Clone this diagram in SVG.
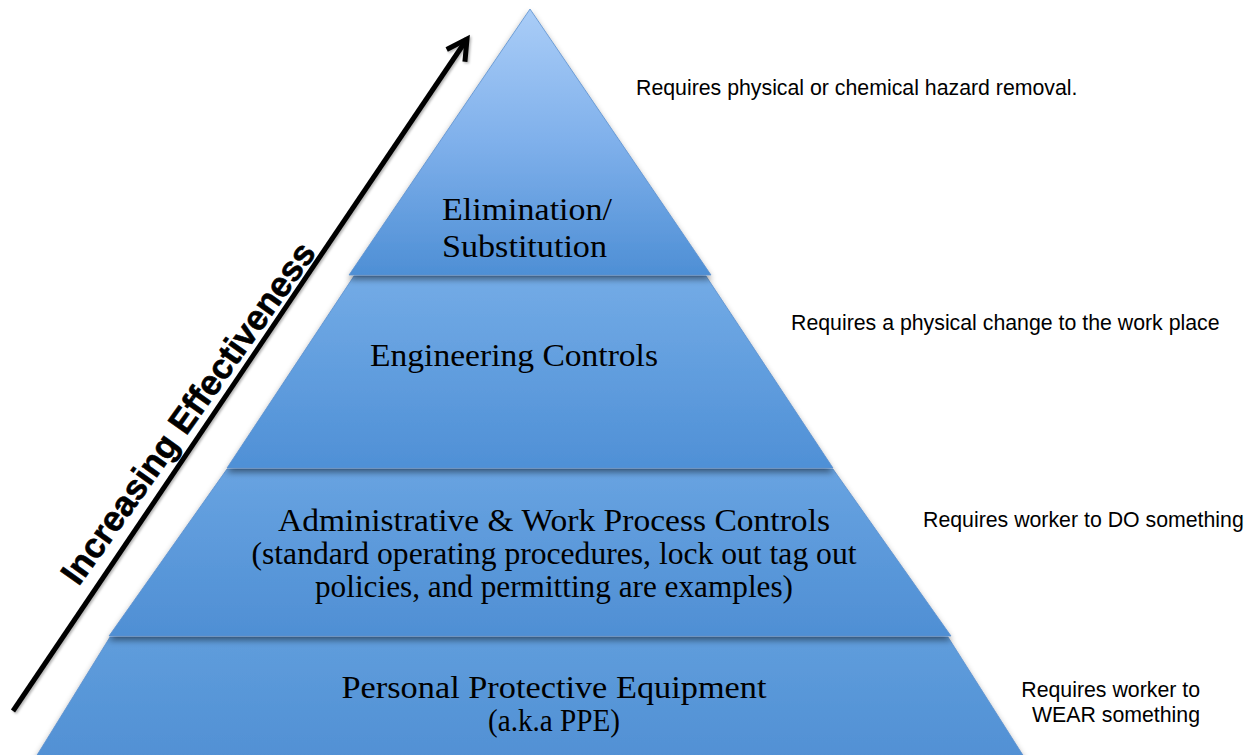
<svg xmlns="http://www.w3.org/2000/svg" width="1252" height="755" viewBox="0 0 1252 755">
  <defs>
    <style>
      .tier { stroke: #5a8fce; stroke-width: 0.8; filter: url(#tierShadow); }
      .tier-label { font-family: "Liberation Serif", "Times New Roman", serif; font-size: 32px; fill: #000; }
      .note { font-family: "Liberation Sans", Arial, sans-serif; font-size: 21.3px; fill: #000; }
      .axis-label { font-family: "Liberation Sans", Arial, sans-serif; font-size: 35px; font-weight: bold; fill: #000; stroke: #000; stroke-width: 0.6; }
      .axis-line { stroke: #000; stroke-width: 5; fill: none; }
    </style>
    <linearGradient id="gradTop" x1="0" y1="0" x2="0" y2="1">
      <stop offset="0" stop-color="#aacdf7"/>
      <stop offset="0.5" stop-color="#7fb0eb"/>
      <stop offset="1" stop-color="#4e8fd5"/>
    </linearGradient>
    <linearGradient id="gradEng" x1="0" y1="0" x2="0" y2="1">
      <stop offset="0" stop-color="#73abe6"/>
      <stop offset="1" stop-color="#4f90d6"/>
    </linearGradient>
    <linearGradient id="gradAdmin" x1="0" y1="0" x2="0" y2="1">
      <stop offset="0" stop-color="#68a3e1"/>
      <stop offset="1" stop-color="#4f8fd4"/>
    </linearGradient>
    <linearGradient id="gradPPE" x1="0" y1="0" x2="0" y2="1">
      <stop offset="0" stop-color="#5f9ddc"/>
      <stop offset="1" stop-color="#5190d4"/>
    </linearGradient>
    <filter id="tierShadow" x="-10%" y="-10%" width="120%" height="130%">
      <feDropShadow dx="0" dy="4" stdDeviation="3" flood-color="#000" flood-opacity="0.45"/>
    </filter>
    <filter id="arrowShadow" x="-10%" y="-10%" width="120%" height="120%">
      <feDropShadow dx="1.5" dy="1.5" stdDeviation="1" flood-color="#000" flood-opacity="0.3"/>
    </filter>
    <marker id="chevron" markerUnits="userSpaceOnUse" viewBox="-26 -16 32 32" markerWidth="32" markerHeight="32" refX="0" refY="0" orient="auto" overflow="visible">
      <path d="M-20,-11 L0,0 L-20,11" stroke="#000" stroke-width="5" fill="none" stroke-linejoin="miter"/>
    </marker>
  </defs>

  <rect x="0" y="0" width="1252" height="755" fill="#ffffff"/>

  <!-- pyramid tiers, bottom first so each upper tier casts its shadow onto the one below -->
  <g id="tier-ppe">
    <polygon class="tier" points="110,637 948,637 1026,760 34,760" fill="url(#gradPPE)"/>
    <text class="tier-label" x="554" y="698" text-anchor="middle" textLength="425" lengthAdjust="spacingAndGlyphs">Personal Protective Equipment</text>
    <text class="tier-label" x="554" y="731" text-anchor="middle" textLength="132" lengthAdjust="spacingAndGlyphs">(a.k.a PPE)</text>
  </g>

  <g id="tier-admin">
    <polygon class="tier" points="227,469 833,469 951,636 109,636" fill="url(#gradAdmin)"/>
    <text class="tier-label" x="554" y="531" text-anchor="middle" textLength="552" lengthAdjust="spacingAndGlyphs">Administrative &amp; Work Process Controls</text>
    <text class="tier-label" x="554" y="564" text-anchor="middle" textLength="605" lengthAdjust="spacingAndGlyphs">(standard operating procedures, lock out tag out</text>
    <text class="tier-label" x="554" y="597" text-anchor="middle" textLength="478" lengthAdjust="spacingAndGlyphs">policies, and permitting are examples)</text>
  </g>

  <g id="tier-engineering">
    <polygon class="tier" points="354,276 706,276 833,468 227,468" fill="url(#gradEng)"/>
    <text class="tier-label" x="514" y="366" text-anchor="middle" textLength="288" lengthAdjust="spacingAndGlyphs">Engineering Controls</text>
  </g>

  <g id="tier-elimination">
    <polygon class="tier" points="530,9 711,275 349,275" fill="url(#gradTop)"/>
    <text class="tier-label" x="442" y="220" textLength="170" lengthAdjust="spacingAndGlyphs">Elimination/</text>
    <text class="tier-label" x="442" y="257" textLength="165" lengthAdjust="spacingAndGlyphs">Substitution</text>
  </g>

  <!-- effectiveness axis -->
  <g id="connectors">
    <line class="axis-line" x1="13" y1="711" x2="467" y2="39" marker-end="url(#chevron)" filter="url(#arrowShadow)"/>
  </g>
  <g id="axis-label">
    <text class="axis-label" transform="translate(188,413) rotate(-54.5)" x="0" y="12" text-anchor="middle">Increasing Effectiveness</text>
  </g>

  <!-- notes to the right of each tier -->
  <g id="note-elimination">
    <text class="note" x="636" y="95">Requires physical or chemical hazard removal.</text>
  </g>
  <g id="note-engineering">
    <text class="note" x="791" y="330">Requires a physical change to the work place</text>
  </g>
  <g id="note-admin">
    <text class="note" x="923" y="527">Requires worker to DO something</text>
  </g>
  <g id="note-ppe">
    <text class="note" x="1200" y="697" text-anchor="end">Requires worker to</text>
    <text class="note" x="1200" y="722" text-anchor="end">WEAR something</text>
  </g>
</svg>
